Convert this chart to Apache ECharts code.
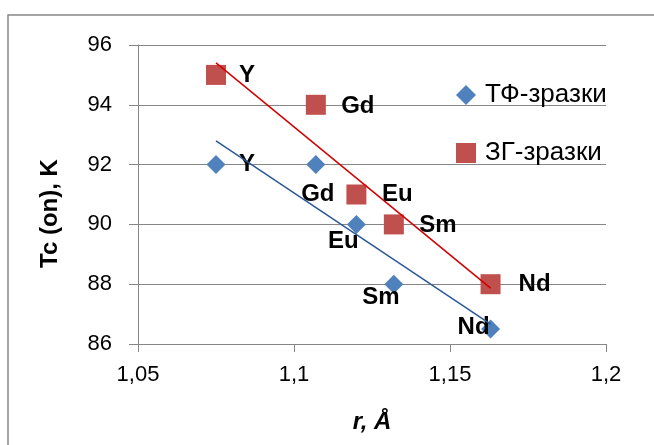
<!DOCTYPE html>
<html>
<head>
<meta charset="utf-8">
<script src="https://cdn.jsdelivr.net/npm/echarts@6/dist/echarts.min.js"></script>
<style>
  html, body { margin: 0; padding: 0; background: #fff; }
  #chart { width: 654px; height: 445px; }
</style>
</head>
<body>
<div id="chart"></div>
<script>
// Ionic radius of the rare-earth element (Å) and onset Tc (K)
const elements = ['Y', 'Gd', 'Eu', 'Sm', 'Nd'];
const radius = [1.075, 1.107, 1.12, 1.132, 1.163];
const tcTF = [92, 92, 90, 88, 86.5];   // ТФ-зразки
const tcZG = [95, 94, 91, 90, 88];     // ЗГ-зразки
const seriesNames = ['ТФ-зразки', 'ЗГ-зразки'];
const xTicks = { min: 1.05, max: 1.2, step: 0.05 };
const yTicks = { min: 86, max: 96, step: 2 };

// where each element label sits relative to its marker (px)
const nudgeTF = [[31, 0], [2, 30], [-13, 17], [-13, 13], [-17, -2]];
const nudgeZG = [[31, 0], [42, 2], [41, 0], [44, 1], [44, 0]];

const FONT = '"Liberation Sans", Arial, sans-serif';
const GRAY = '#868686';

// least-squares straight line through a series, spanning its x range
function trend(xs, ys) {
  const n = xs.length;
  const mx = xs.reduce((a, b) => a + b, 0) / n;
  const my = ys.reduce((a, b) => a + b, 0) / n;
  let sxy = 0, sxx = 0;
  for (let i = 0; i < n; i++) {
    sxy += (xs[i] - mx) * (ys[i] - my);
    sxx += (xs[i] - mx) * (xs[i] - mx);
  }
  const k = sxy / sxx;
  const x0 = Math.min(...xs), x1 = Math.max(...xs);
  return [[x0, my + k * (x0 - mx)], [x1, my + k * (x1 - mx)]];
}

function points(ys, nudge) {
  return radius.map((x, i) => ({
    value: [x, ys[i]],
    name: elements[i],
    label: { offset: nudge[i] }
  }));
}

const pointLabel = {
  show: true,
  position: 'inside',
  formatter: p => p.name,
  color: '#000',
  textBorderWidth: 0,
  fontFamily: FONT,
  fontWeight: 'bold',
  fontSize: 24
};

const chart = echarts.init(document.getElementById('chart'), null, { renderer: 'canvas' });

chart.setOption({
  animation: false,
  backgroundColor: '#fff',
  textStyle: { fontFamily: FONT },
  graphic: [{
    type: 'rect',
    shape: { x: 8, y: 15, width: 700, height: 500 },
    style: { fill: 'none', stroke: GRAY, lineWidth: 1.5 },
    silent: true,
    z: -10
  }],
  grid: { left: 138, right: 48, top: 45, bottom: 101 },
  legend: {
    data: seriesNames,
    orient: 'vertical',
    left: 451,
    top: 77,
    itemWidth: 20,
    itemHeight: 20,
    itemGap: 32,
    textStyle: { fontFamily: FONT, fontSize: 26, color: '#000', padding: [0, 0, 0, 4] }
  },
  xAxis: {
    type: 'value',
    min: xTicks.min,
    max: xTicks.max,
    interval: xTicks.step,
    name: 'r, Å',
    nameLocation: 'middle',
    nameGap: 66,
    nameTextStyle: { fontFamily: FONT, fontSize: 24, fontWeight: 'bold', fontStyle: 'italic', color: '#000' },
    axisLine: { show: true, lineStyle: { color: GRAY, width: 1 } },
    axisTick: { show: true, length: 8, lineStyle: { color: GRAY } },
    splitLine: { show: false },
    axisLabel: {
      margin: 20,
      fontSize: 22,
      color: '#000',
      fontFamily: FONT,
      formatter: v => String(+v.toFixed(2)).replace('.', ',')
    }
  },
  yAxis: {
    type: 'value',
    min: yTicks.min,
    max: yTicks.max,
    interval: yTicks.step,
    name: 'Tc (on), K',
    nameLocation: 'middle',
    nameGap: 76,
    nameTextStyle: { fontFamily: FONT, fontSize: 24, fontWeight: 'bold', color: '#000', padding: [0, 38, 0, 0] },
    axisLine: { show: true, lineStyle: { color: GRAY, width: 1 } },
    axisTick: { show: true, length: 9, lineStyle: { color: GRAY } },
    splitLine: { show: true, lineStyle: { color: GRAY, width: 1 } },
    axisLabel: { margin: 26, fontSize: 22, color: '#000', fontFamily: FONT }
  },
  series: [
    {
      name: seriesNames[0],
      type: 'scatter',
      symbol: 'diamond',
      symbolSize: 19,
      itemStyle: { color: '#4F81BD', opacity: 1 },
      label: pointLabel,
      data: points(tcTF, nudgeTF),
      z: 3
    },
    {
      name: seriesNames[1],
      type: 'scatter',
      symbol: 'rect',
      symbolSize: 20,
      itemStyle: { color: '#C0504D', opacity: 1 },
      label: pointLabel,
      data: points(tcZG, nudgeZG),
      z: 3
    },
    {
      name: 'trend ТФ',
      type: 'line',
      data: trend(radius, tcTF),
      symbol: 'none',
      lineStyle: { color: '#2B5797', width: 1.5 },
      silent: true,
      z: 4
    },
    {
      name: 'trend ЗГ',
      type: 'line',
      data: trend(radius, tcZG),
      symbol: 'none',
      lineStyle: { color: '#D00000', width: 1.5 },
      silent: true,
      z: 4
    }
  ]
});
</script>
</body>
</html>
